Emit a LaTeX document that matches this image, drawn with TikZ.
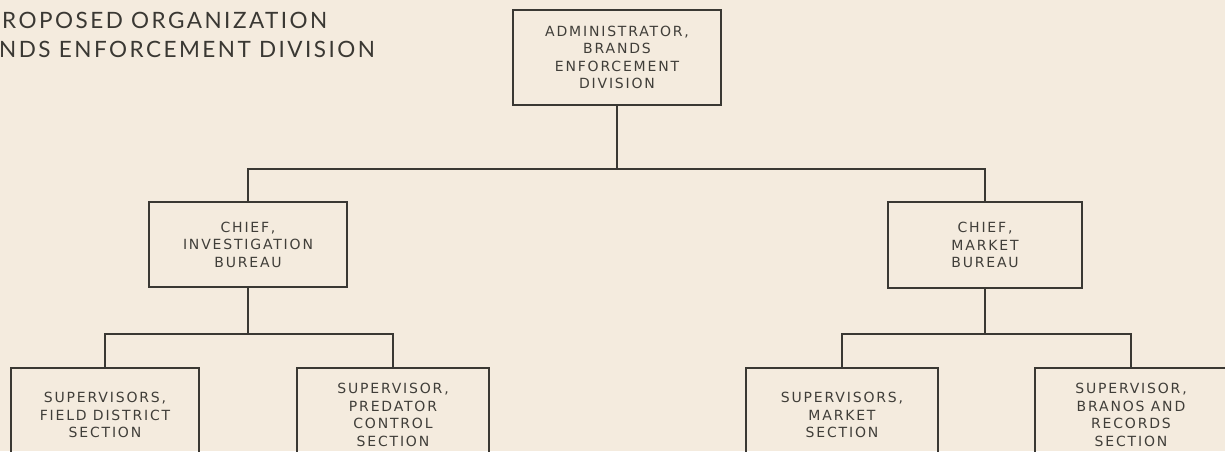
\documentclass[tikz,border=0pt]{standalone}
\usepackage{fontspec}
\newfontfamily\boxfont[LetterSpace=13]{DejaVu Sans}
\newfontfamily\titlefont[LetterSpace=11]{Lato}
\definecolor{bg}{HTML}{F4EBDE}
\definecolor{ink}{HTML}{3A3833}
\definecolor{txt}{HTML}{403E39}
\definecolor{ttxt}{HTML}{3A3833}
\begin{document}
\begin{tikzpicture}[x=1pt,y=-1pt,
  orgbox/.style={draw=ink, line width=1.8pt, fill=none, inner sep=0pt, align=center,
    text=txt, font=\boxfont\fontsize{14}{17.5}\selectfont},
  conn/.style={draw=ink, line width=1.8pt},
  ttl/.style={anchor=base west, inner sep=0pt, text=ttxt, font=\titlefont\fontsize{22.5}{22}\selectfont}]
\useasboundingbox (0,0) rectangle (1225,451);
\fill[bg] (0,0) rectangle (1225,451);
\clip (0,0) rectangle (1225,451);
\node[ttl] (t1) at (2,28) {ROPOSED ORGANIZATION};
\node[ttl] (t2) at (-1,57) {NDS ENFORCEMENT DIVISION};

\node[orgbox, minimum width=208pt, minimum height=95pt] (admin) at (617,57.5) {ADMINISTRATOR,\\BRANDS\\ENFORCEMENT\\DIVISION};
\node[orgbox, minimum width=198pt, minimum height=85pt] (inv) at (248,244.5) {CHIEF,\\INVESTIGATION\\BUREAU};
\node[orgbox, minimum width=194pt, minimum height=86pt] (mkt) at (985,245) {CHIEF,\\MARKET\\BUREAU};

\node[orgbox, minimum width=188pt, minimum height=94pt] (field) at (105,415) {SUPERVISORS,\\FIELD DISTRICT\\SECTION};
\node[orgbox, minimum width=192pt, minimum height=94pt] (pred) at (393,415) {SUPERVISOR,\\PREDATOR\\CONTROL\\SECTION};
\node[orgbox, minimum width=192pt, minimum height=94pt] (smkt) at (842,415) {SUPERVISORS,\\MARKET\\SECTION};
\node[orgbox, minimum width=192pt, minimum height=94pt] (rec) at (1131,415) {SUPERVISOR,\\BRANOS AND\\RECORDS\\SECTION};

\coordinate (j1) at (617,169);
\coordinate (j2) at (248,334);
\coordinate (j3) at (985,334);

\draw[conn] (admin.south) -- (j1);
\draw[conn] (inv.north) |- (j1) -| (mkt.north);
\draw[conn] (inv.south) -- (j2);
\draw[conn] (field.north) |- (j2) -| (pred.north);
\draw[conn] (mkt.south) -- (j3);
\draw[conn] (smkt.north) |- (j3) -| (rec.north);
\end{tikzpicture}
\end{document}
